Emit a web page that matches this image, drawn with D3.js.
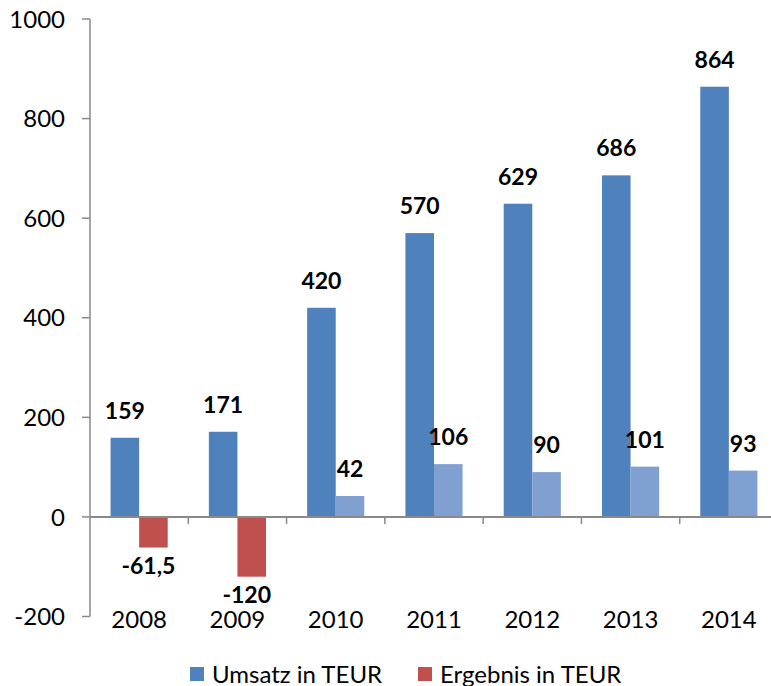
<!DOCTYPE html>
<html>
<head>
<meta charset="utf-8">
<script src="https://cdn.jsdelivr.net/npm/d3@7"></script>
<style>
  body { margin: 0; background: #fff; }
  svg { display: block; font-family: Lato, "Open Sans", sans-serif; }
  .axisLabel { font-size: 24px; fill: #000; }
  .valueLabel { font-size: 23px; font-weight: bold; fill: #000; }
</style>
</head>
<body>
<div id="chart"></div>
<script>
// chart data
var years = ["2008", "2009", "2010", "2011", "2012", "2013", "2014"];
var umsatz = [159, 171, 420, 570, 629, 686, 864];
var ergebnis = [-61.5, -120, 42, 106, 90, 101, 93];
var ergebnisLabels = ["-61,5", "-120", "42", "106", "90", "101", "93"];
var seriesNames = ["Umsatz in TEUR", "Ergebnis in TEUR"];
var yTicks = [-200, 0, 200, 400, 600, 800, 1000];

var colors = {umsatz: "#4f81bd", negative: "#c0504d", positive: "#7fa0d0"};
var axisColor = "#898989";

var width = 771, height = 686;
var plot = {left: 90, right: 778, top: 19, bottom: 616.5};

var svg = d3.select("#chart").append("svg")
	.attr("width", width)
	.attr("height", height);

var y = d3.scaleLinear()
	.domain([-200, 1000])
	.range([plot.bottom, plot.top]);

var x0 = d3.scaleBand()
	.domain(years)
	.range([plot.left, plot.right])
	.padding(0);

var x1 = d3.scaleBand()
	.domain(["umsatz", "ergebnis"])
	.range([0, x0.bandwidth()])
	.paddingInner(0)
	.paddingOuter(0.72);

// y axis
svg.append("line")
	.attr("x1", plot.left).attr("x2", plot.left)
	.attr("y1", y(1000)).attr("y2", y(-200))
	.attr("stroke", axisColor).attr("stroke-width", 1.5);

yTicks.forEach(function(t){
	svg.append("line")
		.attr("x1", plot.left - 8).attr("x2", plot.left)
		.attr("y1", y(t)).attr("y2", y(t))
		.attr("stroke", axisColor).attr("stroke-width", 1.5);
	svg.append("text")
		.attr("class", "axisLabel")
		.attr("x", 65)
		.attr("y", y(t))
		.attr("dy", "0.36em")
		.attr("text-anchor", "end")
		.text(t);
});

// bars
var groups = svg.selectAll(".yearGroup")
	.data(years)
	.enter().append("g")
	.attr("class", "yearGroup")
	.attr("transform", function(d){ return "translate(" + x0(d) + ",0)"; });

groups.append("rect")
	.attr("x", x1("umsatz"))
	.attr("width", x1.bandwidth())
	.attr("y", function(d, i){ return y(umsatz[i]); })
	.attr("height", function(d, i){ return y(0) - y(umsatz[i]); })
	.attr("fill", colors.umsatz);

groups.append("rect")
	.attr("x", x1("ergebnis"))
	.attr("width", x1.bandwidth())
	.attr("y", function(d, i){ return y(Math.max(0, ergebnis[i])); })
	.attr("height", function(d, i){ return Math.abs(y(ergebnis[i]) - y(0)); })
	.attr("fill", function(d, i){ return ergebnis[i] < 0 ? colors.negative : colors.positive; });

// value labels
groups.append("text")
	.attr("class", "valueLabel")
	.attr("x", x1("umsatz") + x1.bandwidth()/2)
	.attr("y", function(d, i){ return y(umsatz[i]) - 19; })
	.attr("text-anchor", "middle")
	.text(function(d, i){ return umsatz[i]; });

groups.append("text")
	.attr("class", "valueLabel")
	.attr("x", function(d, i){ return x1("ergebnis") + x1.bandwidth()/2 - (ergebnis[i] < 0 ? 5 : 0); })
	.attr("y", function(d, i){
		return ergebnis[i] < 0 ? y(ergebnis[i]) + 26 : y(ergebnis[i]) - 19;
	})
	.attr("text-anchor", "middle")
	.text(function(d, i){ return ergebnisLabels[i]; });

// x axis at zero
svg.append("line")
	.attr("x1", plot.left).attr("x2", plot.right)
	.attr("y1", y(0)).attr("y2", y(0))
	.attr("stroke", axisColor).attr("stroke-width", 2);

years.forEach(function(d, i){
	if(i > 0){
		svg.append("line")
			.attr("x1", x0(d)).attr("x2", x0(d))
			.attr("y1", y(0)).attr("y2", y(0) + 7)
			.attr("stroke", axisColor).attr("stroke-width", 1.5);
	}
	svg.append("text")
		.attr("class", "axisLabel")
		.attr("x", x0(d) + x0.bandwidth()/2)
		.attr("y", 628)
		.attr("text-anchor", "middle")
		.text(d);
});

// legend
var legendColors = [colors.umsatz, colors.negative];
var legendX = [190, 418];
seriesNames.forEach(function(name, i){
	svg.append("rect")
		.attr("x", legendX[i]).attr("y", 667)
		.attr("width", 14).attr("height", 14)
		.attr("fill", legendColors[i]);
	svg.append("text")
		.attr("class", "axisLabel")
		.attr("x", legendX[i] + 22)
		.attr("y", 683)
		.text(name);
});
</script>
</body>
</html>
